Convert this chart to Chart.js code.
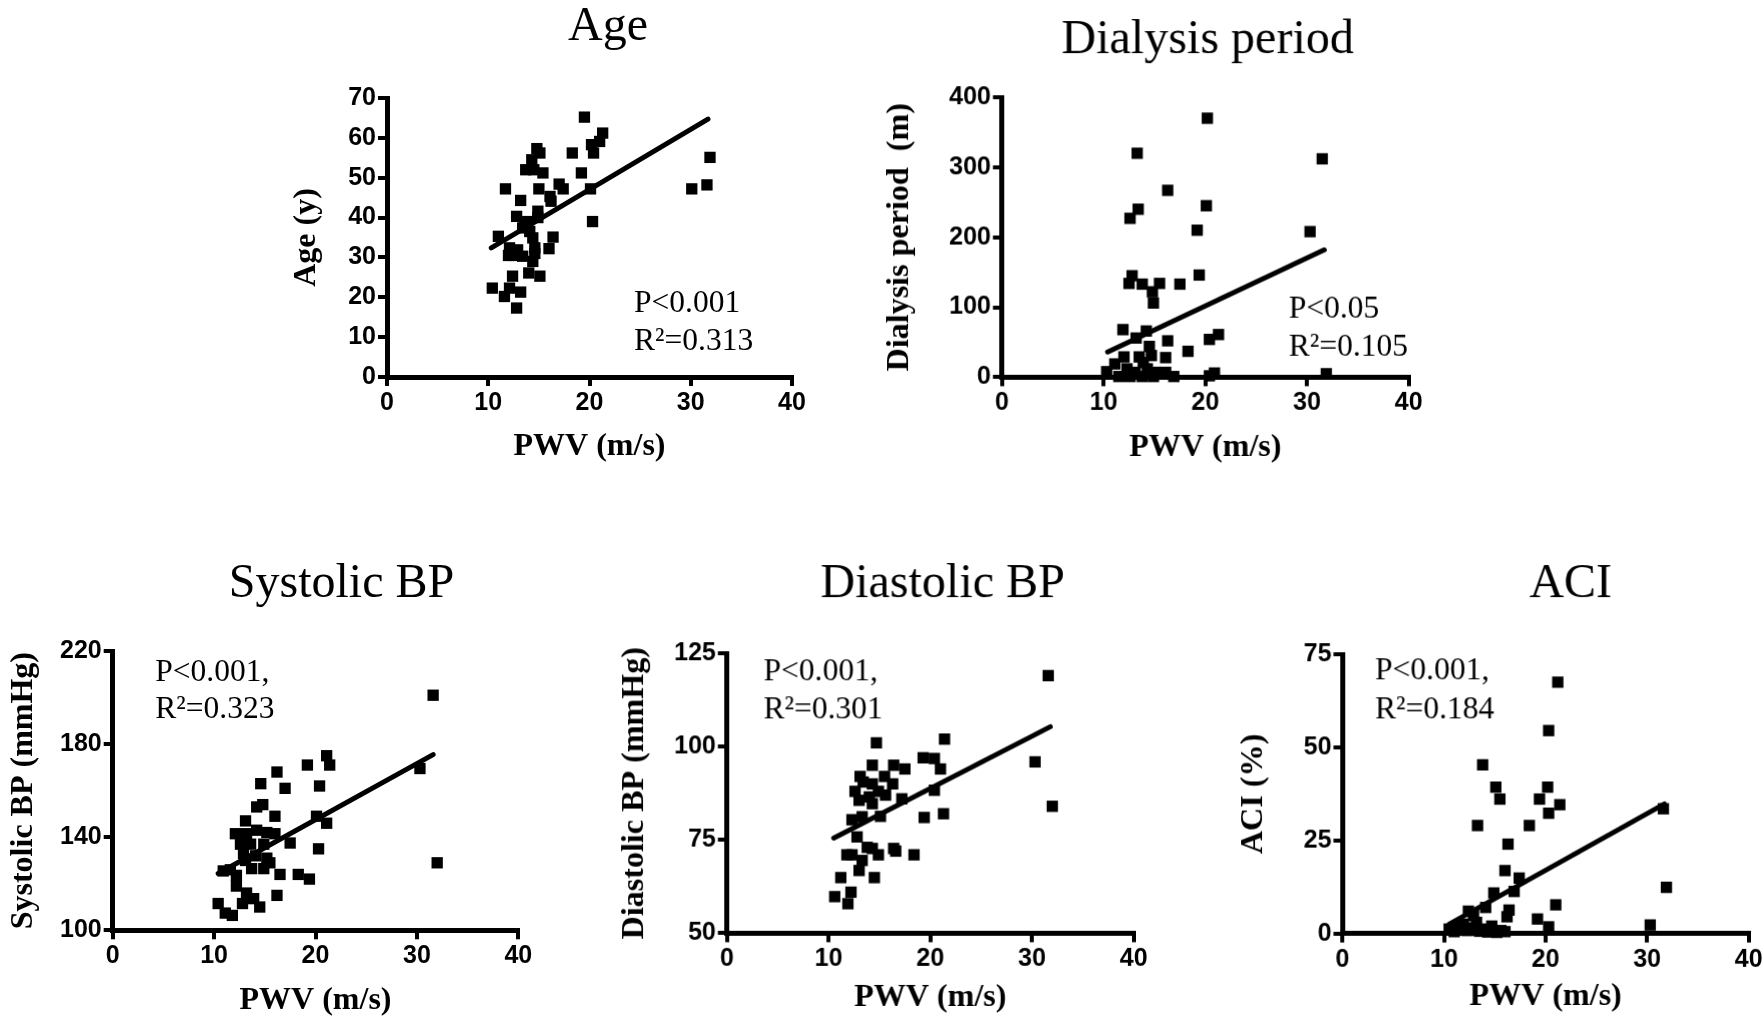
<!DOCTYPE html>
<html>
<head>
<meta charset="utf-8">
<script src="https://cdn.jsdelivr.net/npm/chart.js@4.4.1/dist/chart.umd.min.js"></script>
<style>
  html, body { margin: 0; padding: 0; background: #fff; }
  #page { position: relative; width: 1764px; height: 1021px; overflow: hidden; background: #fff; }
  .panel { position: absolute; }
</style>
</head>
<body>
<div id="page"></div>
<script>
// ---- data (x = PWV in m/s) ----
const agePwv = [19.5, 21.3, 21.0, 20.2, 20.4, 18.3, 19.2, 20.1, 20.3, 30.1, 31.6, 31.9,
  14.8, 15.1, 14.3, 13.7, 14.5, 15.4, 11.7, 15.0, 17.0, 17.4, 16.1, 16.2, 13.2, 12.8,
  14.9, 13.9, 13.4, 14.1, 14.4, 11.0, 16.4, 14.6, 16.0, 12.1, 12.9, 12.0, 12.4, 13.4,
  14.4, 12.4, 15.1, 14.0, 10.4, 12.1, 13.2, 11.6, 12.8, 14.9, 13.6, 14.6];
const ageYears = [65.2, 61.2, 59.1, 58.3, 56.2, 56.2, 51.2, 47.2, 39.0, 47.2, 48.2, 55.1,
  57.3, 56.2, 54.5, 52.0, 52.0, 51.2, 47.2, 47.2, 48.4, 47.2, 45.3, 44.1, 44.3, 40.3,
  41.6, 39.0, 37.4, 36.5, 34.9, 35.3, 35.1, 32.4, 32.2, 32.4, 31.9, 30.5, 30.5, 30.3,
  29.0, 25.3, 25.3, 26.1, 22.3, 22.3, 21.3, 20.2, 17.3, 40.0, 38.5, 31.0];
const ageFitX = [10.3, 31.7];
const ageFitY = [32.4, 64.7];

const dialPwv = [20.2, 13.3, 31.5, 16.3, 20.1, 13.4, 12.6, 19.2, 30.3, 19.4, 12.8, 12.5,
  13.8, 15.5, 17.5, 14.8, 14.9, 11.9, 14.2, 13.2, 21.3, 20.4, 16.3, 18.3, 14.5, 12.0,
  16.1, 13.5, 11.1, 14.7, 13.9, 10.3, 12.3, 13.1, 14.3, 15.1, 16.1, 16.9, 11.5, 12.6,
  13.8, 14.9, 20.9, 20.4, 31.9];
const dialMonths = [370, 320, 312, 267, 245, 240, 227, 210, 208, 146, 145, 134,
  133, 134, 133, 122, 106, 68, 66, 56, 61, 54, 52, 37, 44, 29,
  28, 29, 19, 31, 21, 8, 12, 7, 12, 7, 7, 1, 1, 1,
  1, 1, 6, 2, 5];
const dialFitX = [10.4, 31.7];
const dialFitY = [36, 182];

const sysPwv = [31.6, 32.0, 30.3, 21.1, 21.4, 19.2, 20.4, 16.2, 17.0, 14.6, 14.2, 14.8,
  16.0, 20.1, 21.1, 13.1, 12.1, 13.2, 14.2, 15.2, 16.0, 17.5, 20.3, 12.6, 13.6, 14.9,
  12.9, 14.1, 15.2, 13.1, 15.5, 13.7, 14.9, 11.6, 10.9, 12.2, 16.5, 18.3, 19.4, 12.2,
  16.2, 13.2, 12.8, 13.9, 14.5, 10.4, 11.1, 11.8];
const sysBp = [201, 129, 169.5, 175, 171, 171, 162, 168, 161, 163, 153, 154,
  149, 149, 146, 147, 141.5, 141.5, 143, 142, 141.5, 137.5, 135, 137, 137, 137,
  133, 132, 131, 130, 129, 126.5, 126.5, 126, 125.5, 123.6, 124, 124, 122, 119,
  115, 116, 111.5, 113.6, 110, 111.5, 107.4, 106.4];
const sysFitX = [10.4, 31.6];
const sysFitY = [124.4, 175.5];

const diaPwv = [31.6, 30.3, 32.0, 21.4, 14.7, 19.3, 20.4, 21.0, 14.3, 16.4, 17.5, 13.1,
  15.5, 13.4, 14.3, 16.3, 12.6, 14.9, 20.4, 14.0, 15.6, 17.2, 13.0, 14.3, 19.4, 21.3,
  12.3, 13.3, 15.1, 12.8, 13.8, 14.3, 16.4, 16.6, 18.4, 11.8, 12.3, 14.9, 13.3, 13.0,
  11.2, 14.5, 10.6, 12.2, 11.9];
const diaBp = [119, 95.9, 84, 102, 101, 97, 96.8, 94, 95, 95, 94, 92,
  92, 90.5, 90, 90, 88, 88, 88.3, 86.5, 87, 86, 85.6, 84.7, 81, 82,
  80.4, 81.2, 81.3, 75.8, 73, 72.7, 72.7, 72, 71, 71, 71, 71, 69.5, 66.8,
  64.9, 64.9, 59.8, 61, 57.9];
const diaFitX = [10.5, 31.8];
const diaFitY = [75.5, 105.3];

const aciPwv = [21.2, 20.3, 13.8, 15.1, 20.2, 15.5, 19.4, 21.4, 20.3, 31.6, 13.3, 18.4,
  16.3, 16.0, 17.4, 16.9, 14.9, 31.9, 21.0, 14.1, 16.4, 16.2, 19.2, 30.3, 20.3, 12.9,
  10.5, 11.0, 11.3, 11.9, 12.3, 12.6, 13.2, 13.5, 13.9, 14.3, 14.7, 15.2, 15.6, 16.0, 12.4];
const aciPct = [67.5, 54.5, 45.3, 39.3, 39.3, 36.1, 36.1, 34.6, 32.3, 33.5, 29.0, 29.0,
  24.0, 16.9, 14.9, 11.3, 10.9, 12.4, 7.7, 7.0, 6.3, 4.5, 3.9, 2.3, 1.8, 4.8,
  1.2, 0.5, 1.6, 2.5, 0.8, 1.5, 3.0, 0.6, 1.2, 0.4, 2.0, 0.3, 0.8, 0.5, 6.0];
const aciFitX = [10.5, 31.7];
const aciFitY = [2.5, 34.8];

const pwvTicks = [0, 10, 20, 30, 40];

// ---- layout of the five panels (page pixels) ----
const panels = [
  { title: 'Age', yTitle: 'Age (y)', x: agePwv, y: ageYears, fitX: ageFitX, fitY: ageFitY,
    yMin: 0, yMax: 70, yStep: 10, notes: ['P<0.001', 'R²=0.313'], noteX: 24.4, noteY: [16.4, 6.8],
    plotL: 387, plotR: 792, plotT: 98.3, plotB: 377.3, yTitleX: 310, xTitleBase: 457.7,
    titleX: 608, titleBase: 40.5 },
  { title: 'Dialysis period', yTitle: 'Dialysis period  (m)', x: dialPwv, y: dialMonths, fitX: dialFitX, fitY: dialFitY,
    yMin: 0, yMax: 400, yStep: 100, notes: ['P<0.05', 'R²=0.105'], noteX: 28.2, noteY: [85, 30],
    plotL: 1001.7, plotR: 1407.7, plotT: 97.3, plotB: 376.7, yTitleX: 903, xTitleBase: 458,
    titleX: 1207, titleBase: 53 },
  { title: 'Systolic BP', yTitle: 'Systolic BP (mmHg)', x: sysPwv, y: sysBp, fitX: sysFitX, fitY: sysFitY,
    yMin: 100, yMax: 220, yStep: 40, notes: ['P<0.001,', 'R²=0.323'], noteX: 4.2, noteY: [207.1, 191],
    plotL: 112.7, plotR: 518.3, plotT: 650.7, plotB: 930, yTitleX: 27, xTitleBase: 1011.7,
    titleX: 341.5, titleBase: 597 },
  { title: 'Diastolic BP', yTitle: 'Diastolic BP (mmHg)', x: diaPwv, y: diaBp, fitX: diaFitX, fitY: diaFitY,
    yMin: 50, yMax: 125, yStep: 25, notes: ['P<0.001,', 'R²=0.301'], noteX: 3.6, noteY: [117.7, 107.6],
    plotL: 726.7, plotR: 1132.7, plotT: 653.3, plotB: 932.7, yTitleX: 638, xTitleBase: 1008.3,
    titleX: 942, titleBase: 597 },
  { title: 'ACI', yTitle: 'ACI (%)', x: aciPwv, y: aciPct, fitX: aciFitX, fitY: aciFitY,
    yMin: 0, yMax: 75, yStep: 25, notes: ['P<0.001,', 'R²=0.184'], noteX: 3.2, noteY: [68.2, 57.7],
    plotL: 1342.3, plotR: 1747.7, plotT: 654, plotB: 932.7, yTitleX: 1257, xTitleBase: 1006.7,
    titleX: 1570, titleBase: 597 }
];

const tickFont = { family: 'Liberation Sans', size: 25, weight: 'bold' };
const axisTitleFont = { family: 'Liberation Serif', size: 32, weight: 'bold', lineHeight: 1.2 };

// panel title and P / R² notes
const panelText = {
  id: 'panelText',
  afterDraw(chart, args, opts) {
    const { ctx, scales } = chart;
    ctx.save();
    ctx.fillStyle = '#000';
    ctx.textBaseline = 'alphabetic';
    ctx.textAlign = 'center';
    ctx.font = '48px "Liberation Serif"';
    ctx.fillText(opts.title, opts.titleX, opts.titleY);
    ctx.textAlign = 'left';
    ctx.font = '31.5px "Liberation Serif"';
    opts.notes.forEach((t, i) => {
      ctx.fillText(t, scales.x.getPixelForValue(opts.noteX), scales.y.getPixelForValue(opts.noteY[i]));
    });
    ctx.restore();
  }
};

const page = document.getElementById('page');

panels.forEach(p => {
  const cl = p.yTitleX - 22;
  const ct = p.plotT - 100;
  const cr = p.plotR + 30;
  const cb = p.plotB + 100;
  const xTitleMid = p.xTitleBase - 10.8;

  const div = document.createElement('div');
  div.className = 'panel';
  div.style.left = cl + 'px';
  div.style.top = ct + 'px';
  div.style.width = (cr - cl) + 'px';
  div.style.height = (cb - ct) + 'px';
  const canvas = document.createElement('canvas');
  div.appendChild(canvas);
  page.appendChild(div);

  const pts = p.x.map((v, i) => ({ x: v, y: p.y[i] }));
  const fit = p.fitX.map((v, i) => ({ x: v, y: p.fitY[i] }));

  new Chart(canvas, {
    type: 'scatter',
    data: {
      datasets: [
        { data: pts, pointStyle: 'rect', pointRadius: 8, backgroundColor: '#000',
          borderColor: '#000', borderWidth: 0, clip: false },
        { data: fit, showLine: true, borderColor: '#000', borderWidth: 5, pointRadius: 0,
          borderCapStyle: 'round', clip: false }
      ]
    },
    options: {
      responsive: true,
      maintainAspectRatio: false,
      animation: false,
      layout: { padding: { left: 0, top: 100, right: 30, bottom: 0 } },
      plugins: {
        legend: { display: false },
        tooltip: { enabled: false },
        panelText: { title: p.title, titleX: p.titleX - cl, titleY: p.titleBase - ct,
          notes: p.notes, noteX: p.noteX, noteY: p.noteY }
      },
      scales: {
        x: {
          type: 'linear', min: 0, max: 40,
          afterBuildTicks: s => { s.ticks = pwvTicks.map(v => ({ value: v })); },
          ticks: { font: tickFont, color: '#000', padding: 2, maxRotation: 0 },
          border: { color: '#000', width: 5 },
          grid: { drawOnChartArea: false, color: '#000', lineWidth: 4, tickLength: 9 },
          title: { display: true, text: 'PWV (m/s)', color: '#000', font: axisTitleFont,
            padding: { top: 0, bottom: cb - 19.2 - xTitleMid } },
          afterFit: s => { s.height = 100; }
        },
        y: {
          type: 'linear', min: p.yMin, max: p.yMax,
          ticks: { stepSize: p.yStep, font: tickFont, color: '#000', padding: 2 },
          border: { color: '#000', width: 5 },
          grid: { drawOnChartArea: false, color: '#000', lineWidth: 4, tickLength: 9 },
          title: { display: true, text: p.yTitle, color: '#000', font: axisTitleFont,
            padding: { top: 0, bottom: 0 } },
          afterFit: s => { s.width = p.plotL - cl; }
        }
      }
    },
    plugins: [panelText]
  });
});
</script>
</body>
</html>
